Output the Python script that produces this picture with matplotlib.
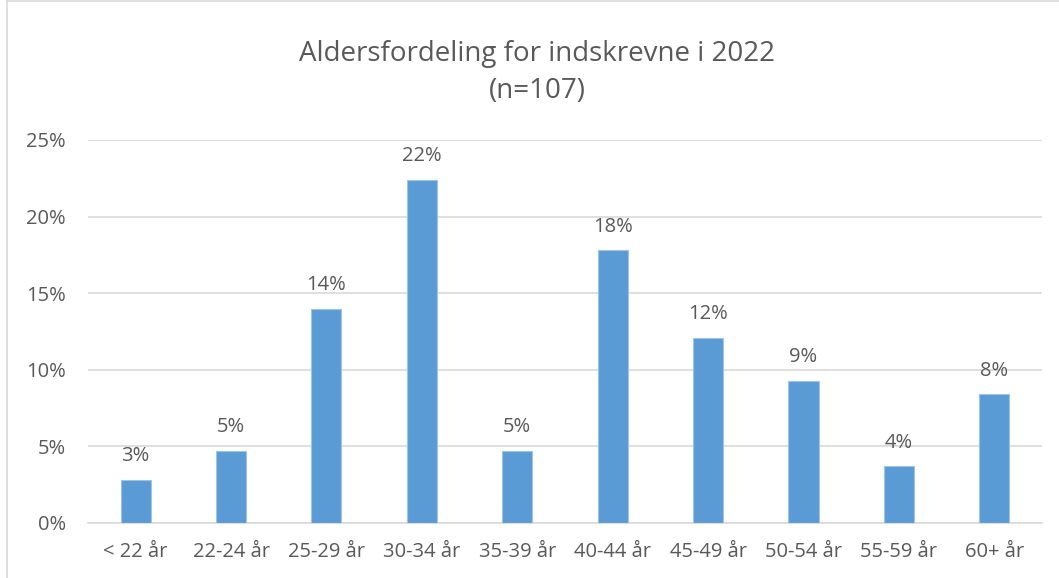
import matplotlib.pyplot as plt
from matplotlib.ticker import PercentFormatter, MultipleLocator
from matplotlib.lines import Line2D

# Data
categories = ['< 22 år', '22-24 år', '25-29 år', '30-34 år', '35-39 år',
              '40-44 år', '45-49 år', '50-54 år', '55-59 år', '60+ år']
shares = [2.8, 4.7, 14.0, 22.4, 4.7, 17.8, 12.1, 9.3, 3.7, 8.4]
labels = ['3%', '5%', '14%', '22%', '5%', '18%', '12%', '9%', '4%', '8%']

plt.rcParams['font.family'] = ['Open Sans', 'DejaVu Sans']
txt = '#595959'

fig = plt.figure(figsize=(10.59, 5.78), dpi=100)
ax = fig.add_axes([0.083, 0.0952, 0.901, 0.6626])

x = range(len(categories))
ax.bar(x, shares, width=0.315, color='#5B9BD5', edgecolor='#9DC3E6',
       linewidth=0.8, zorder=3)
for i, (v, lab) in enumerate(zip(shares, labels)):
    ax.text(i, v + 0.9, lab, ha='center', va='bottom', fontsize=14.5, color=txt)

ax.set_xlim(-0.5, len(categories) - 0.5)
ax.set_ylim(0, 25)
ax.yaxis.set_major_locator(MultipleLocator(5))
ax.yaxis.set_major_formatter(PercentFormatter(decimals=0))
ax.set_xticks(list(x))
ax.set_xticklabels(categories)
ax.tick_params(axis='both', length=0, labelsize=14.5, colors=txt)
ax.tick_params(axis='x', pad=14)
ax.tick_params(axis='y', pad=16)
ax.grid(axis='y', color='#D9D9D9', linewidth=1.2, zorder=0)
for s in ['top', 'right', 'left']:
    ax.spines[s].set_visible(False)
ax.spines['bottom'].set_color('#D9D9D9')
ax.spines['bottom'].set_linewidth(1.2)

fig.text(0.507, 0.875, 'Aldersfordeling for indskrevne i 2022\n(n=107)',
         ha='center', va='center', fontsize=20, color=txt, linespacing=1.45)

# chart border
fig.add_artist(Line2D([0.0066, 0.0066], [0, 1], color='#D9D9D9', lw=1.2))
fig.add_artist(Line2D([0.0066, 1], [0.999, 0.999], color='#D9D9D9', lw=1.2))

fig.savefig('out.png', dpi=100)
